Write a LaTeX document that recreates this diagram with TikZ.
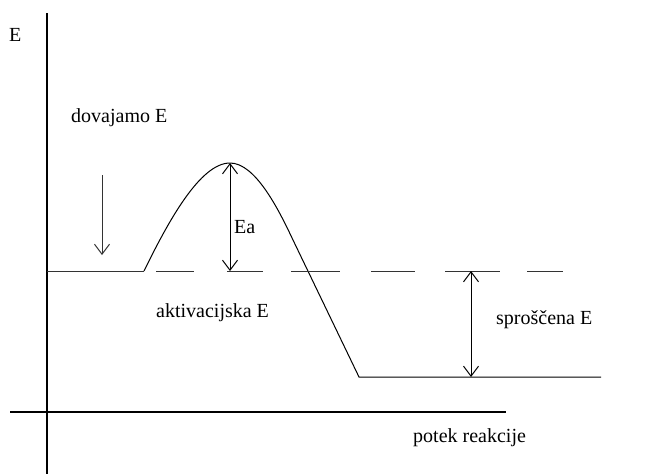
\documentclass[tikz,border=0pt]{standalone}
\usepackage{fontspec}
\setmainfont{Liberation Serif}
\usetikzlibrary{arrows.meta, positioning}

\begin{document}
\begin{tikzpicture}[
  x=1pt, y=-1pt,
  lbl/.style={inner sep=0pt, anchor=base west, font=\fontsize{20}{23}\selectfont},
  curve/.style={line width=1pt, black},
  lvl/.style={line width=1pt, black!80},
  arw/.style={{Straight Barb[length=10pt,width=15pt]}-{Straight Barb[length=10pt,width=15pt]}, line width=1pt},
  arwd/.style={-{Straight Barb[length=10pt,width=15pt]}, line width=1pt, black!80},
]
\useasboundingbox (0,0) rectangle (656,474);

% axes
\draw[line width=1.2pt] (47,13) -- (47,474);
\draw[line width=1.2pt] (10,412) -- (506,412);

% labels
\node[lbl] (lblE) at (9,41) {E};
\node[lbl] (lblSupply) at (71,122) {dovajamo E};
\node[lbl] (lblEa) at (234,233) {Ea};
\node[lbl] (lblAct) at (156,317) {aktivacijska E};
\node[lbl] (lblRel) at (496,324) {sproščena E};
\node[lbl] (lblAxis) at (413,442) {potek reakcije};

% key points
\coordinate (start) at (47,271);
\coordinate (foot) at (144,271);
\coordinate (peak) at (230,163);
\coordinate (bend) at (293,240);
\coordinate (low) at (359,377);
\coordinate (lowend) at (601,377);
\coordinate (eaBase) at (230,271);
\coordinate (relTop) at (471,271);
\coordinate (relBot) at (471,377);
\coordinate (supTop) at (102,175);
\coordinate (supTip) at (102,255);

% energy profile
\draw[lvl] (start) -- (foot);
\draw[curve] (foot) .. controls (168,222) and (200,163) .. (peak)
  .. controls (255,163) and (278,208) .. (bend) -- (low) -- (lowend);

% dashed level
\foreach \a/\b in {156/194, 227/263, 291/340, 371/415, 445/500, 527/563}
  \draw[lvl] (\a,271) -- (\b,271);

% arrows
\draw[arwd] (supTop) -- (supTip);
\draw[arw] (peak) -- (eaBase);
\draw[arw] (relTop) -- (relBot);
\end{tikzpicture}
\end{document}
